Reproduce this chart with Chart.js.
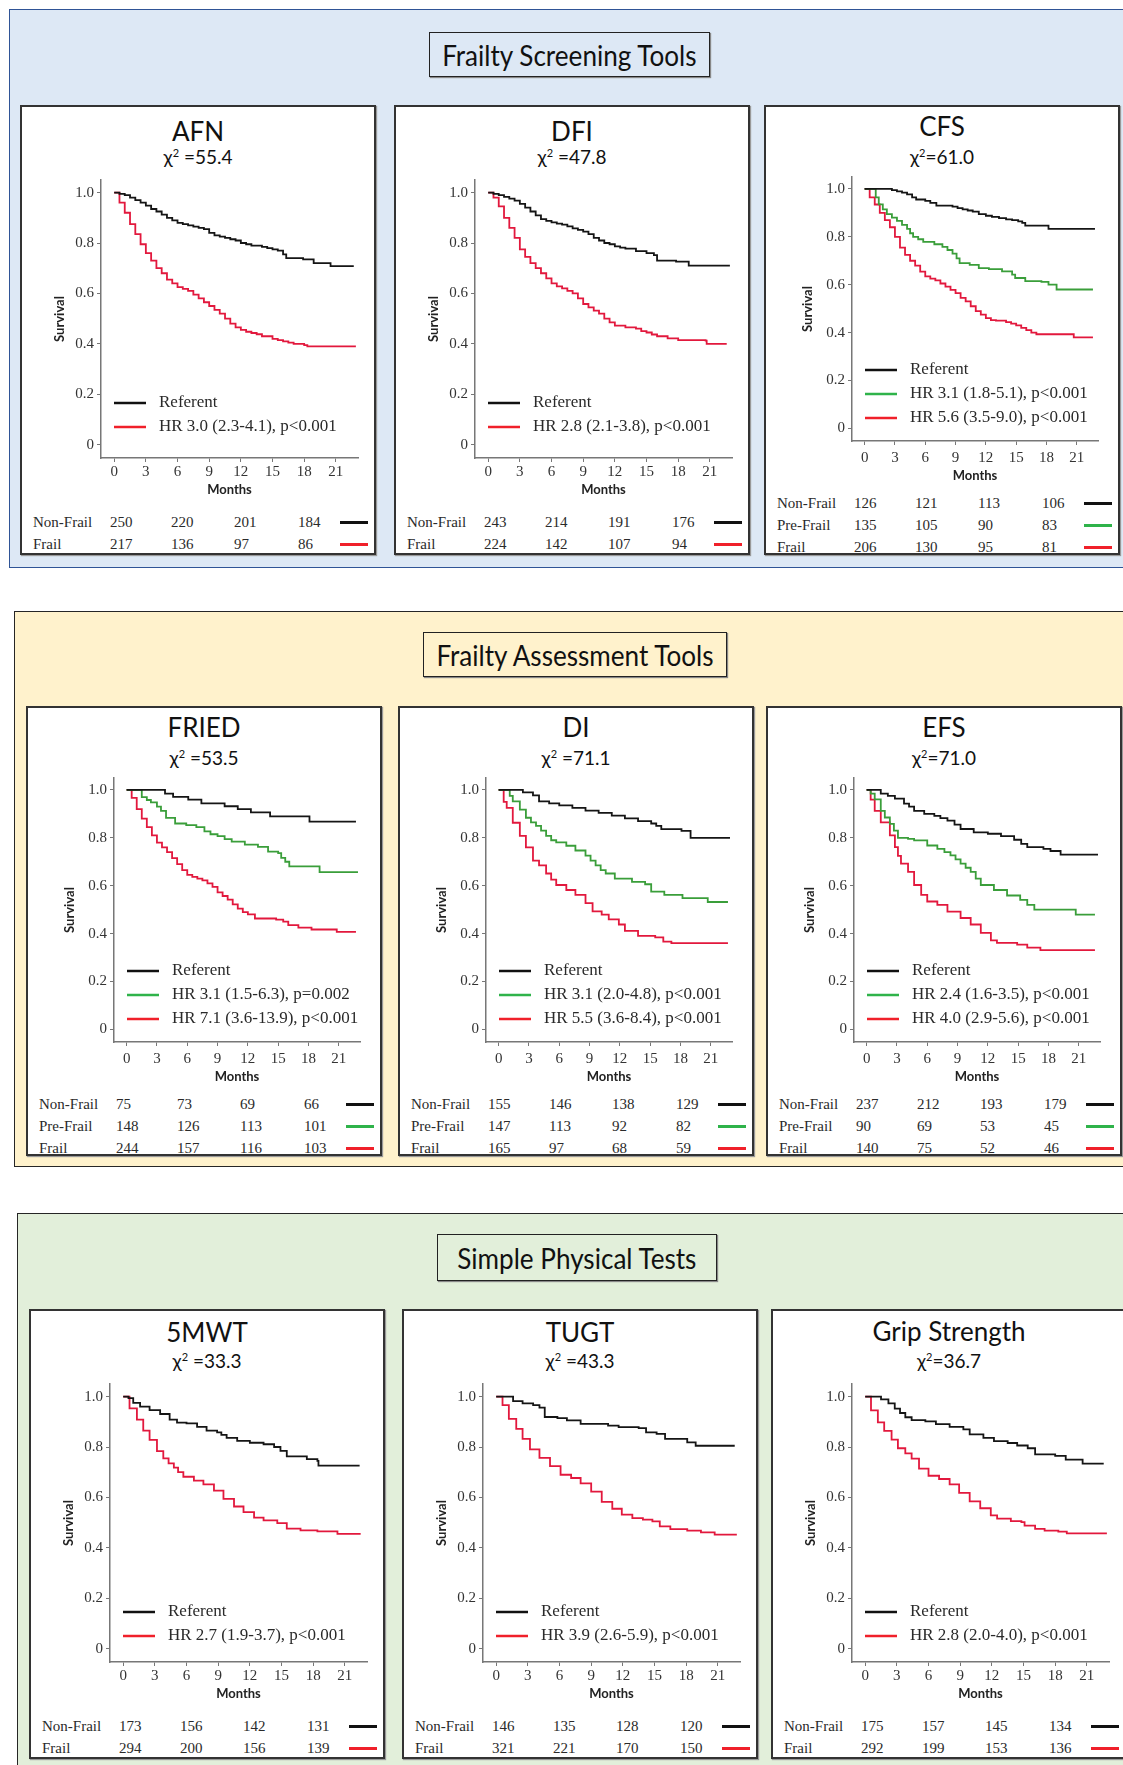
<!DOCTYPE html>
<html>
<head>
<meta charset="utf-8">
<script src="https://cdn.jsdelivr.net/npm/chart.js@4.4.1/dist/chart.umd.min.js"></script>
<style>
  body { margin: 0; background: #fff; }
  #page { position: relative; width: 1123px; height: 1765px; overflow: hidden; }
  .section { position: absolute; box-sizing: border-box; border: 1.5px solid #262626; }
  .header { position: absolute; box-sizing: border-box; border: 1.5px solid #222; box-shadow: 1px 1px 1px #888;
    font-family: Lato, sans-serif; font-size: 29px; color: #111;
    display: flex; align-items: center; justify-content: center; }
  .header span { display: inline-block; transform: scaleX(0.9); white-space: nowrap; }
  .panel { position: absolute; box-sizing: border-box; width: 356px; height: 450px; background: #fff;
    border: 2px solid #333; box-shadow: 1px 1px 1px #999; }
  .ptitle { position: absolute; left: 0; right: 0; text-align: center; font-family: Lato, sans-serif; color: #111; }
  .ptitle.name { font-size: 26px; line-height: 30px; }
  .ptitle.chi { top: 39px; font-size: 19px; line-height: 22px; }
  .ptitle.chi sup { font-size: 11px; vertical-align: 7px; line-height: 0; }
  .panel canvas { position: absolute; left: 0; top: 58px; }
  .risk { position: absolute; font-family: "Liberation Serif", serif; font-size: 15px; line-height: 18px; color: #2a2a2a; white-space: nowrap; }
  .rline { position: absolute; height: 2.5px; width: 28px; }
</style>
</head>
<body>
<div id="page"></div>
<script>
// survival curves, [month, survival]
const afnReferent = [[0,1],[0.5,0.995],[1,0.99],[1.5,0.98],[2,0.97],[2.5,0.96],[3,0.948],[3.5,0.935],[4,0.925],[4.5,0.913],[5,0.9],[5.5,0.89],[6,0.88],[6.5,0.875],[7,0.87],[7.5,0.865],[8,0.86],[8.5,0.855],[9,0.84],[9.5,0.83],[10,0.825],[10.5,0.82],[11,0.815],[11.5,0.81],[12,0.8],[12.5,0.795],[13,0.79],[14,0.785],[14.5,0.78],[15,0.775],[15.5,0.77],[16,0.755],[16.3,0.74],[17.9,0.735],[18.9,0.72],[20.5,0.708],[22.7,0.708]];
const afnFrail = [[0,1],[0.5,0.96],[1,0.92],[1.5,0.875],[2,0.835],[2.5,0.795],[3,0.76],[3.5,0.73],[4,0.7],[4.5,0.68],[5,0.655],[5.5,0.64],[6,0.625],[6.5,0.618],[7,0.61],[7.5,0.595],[8,0.58],[8.5,0.565],[9,0.55],[9.5,0.535],[10,0.52],[10.5,0.5],[11,0.48],[11.5,0.465],[12,0.455],[12.5,0.448],[13,0.443],[13.5,0.438],[14,0.43],[15,0.42],[15.5,0.415],[16,0.41],[16.5,0.405],[17,0.4],[18,0.395],[18.3,0.39],[22.9,0.39]];

const dfiReferent = [[0,1],[0.5,0.995],[1,0.99],[1.5,0.983],[2,0.976],[2.5,0.968],[3,0.955],[3.5,0.94],[4,0.925],[4.5,0.91],[5,0.895],[5.5,0.888],[6,0.882],[6.5,0.877],[7,0.873],[7.5,0.866],[8,0.858],[8.5,0.852],[9,0.845],[9.5,0.835],[10,0.82],[10.5,0.81],[11,0.8],[11.5,0.795],[12,0.787],[12.5,0.782],[13,0.778],[14,0.768],[15,0.76],[15.7,0.752],[16,0.73],[17.8,0.726],[19,0.71],[22.9,0.71]];
const dfiFrail = [[0,1],[0.5,0.98],[1,0.945],[1.5,0.9],[2,0.86],[2.5,0.82],[3,0.775],[3.5,0.745],[4,0.72],[4.5,0.7],[5,0.68],[5.5,0.66],[6,0.64],[6.5,0.628],[7,0.62],[7.5,0.61],[8,0.6],[8.5,0.58],[9,0.558],[9.5,0.545],[10,0.532],[10.5,0.52],[11,0.5],[11.5,0.485],[12,0.472],[13,0.465],[14,0.46],[14.5,0.45],[15,0.445],[15.5,0.437],[16,0.43],[17,0.422],[18,0.415],[20.6,0.413],[20.7,0.4],[22.6,0.4]];

const cfsReferent = [[0,1],[2.2,1],[2.7,0.995],[3.2,0.99],[3.7,0.985],[4.2,0.977],[4.7,0.965],[5.1,0.956],[6,0.95],[6.5,0.942],[7.1,0.93],[8.7,0.926],[9.2,0.92],[9.7,0.915],[10.2,0.91],[10.7,0.905],[11.3,0.895],[12,0.888],[12.6,0.883],[13.3,0.878],[14,0.873],[14.6,0.87],[15.2,0.865],[15.6,0.858],[15.9,0.847],[18.2,0.833],[22.8,0.833]];
const cfsPreFrail = [[0,1],[0.9,1],[1.1,0.965],[1.4,0.936],[1.8,0.915],[2.2,0.895],[2.7,0.88],[3.2,0.867],[3.7,0.85],[4.2,0.833],[4.5,0.815],[4.8,0.8],[5.3,0.79],[5.8,0.779],[6.9,0.769],[7.7,0.758],[8.2,0.745],[8.7,0.73],[9.1,0.71],[9.4,0.69],[10.4,0.683],[11.3,0.669],[12.3,0.665],[13.6,0.656],[14.6,0.642],[14.9,0.628],[15.9,0.615],[17.5,0.612],[18.2,0.6],[19,0.58],[22.6,0.58]];
const cfsFrail = [[0,1],[0.5,0.965],[1,0.935],[1.5,0.9],[2,0.87],[2.5,0.84],[3,0.8],[3.5,0.755],[4,0.725],[4.5,0.7],[5,0.68],[5.5,0.655],[6,0.635],[6.5,0.625],[7,0.618],[7.5,0.605],[8,0.592],[8.5,0.578],[9,0.565],[9.5,0.545],[10,0.53],[10.5,0.51],[11,0.49],[11.5,0.475],[12,0.46],[12.5,0.452],[13,0.45],[14,0.444],[14.5,0.437],[15,0.43],[15.5,0.42],[16,0.41],[16.5,0.4],[17,0.393],[20.6,0.393],[20.7,0.38],[22.6,0.38]];

const friedReferent = [[0,1],[3.4,1],[3.8,0.985],[4.6,0.971],[6.1,0.96],[7.4,0.944],[9.7,0.932],[11,0.92],[12.3,0.906],[14.2,0.89],[18.1,0.868],[22.7,0.868]];
const friedPreFrail = [[0,1],[1.1,1],[1.5,0.97],[2,0.958],[2.4,0.948],[3,0.93],[3.4,0.913],[3.9,0.883],[4.8,0.86],[5.9,0.853],[6.9,0.845],[7.7,0.827],[8.3,0.815],[9,0.807],[9.7,0.795],[10.4,0.784],[11.7,0.772],[13,0.762],[14,0.742],[15,0.736],[15.3,0.716],[15.7,0.7],[16.1,0.681],[19.1,0.657],[22.9,0.657]];
const friedFrail = [[0,1],[0.5,0.967],[1,0.92],[1.5,0.88],[2,0.845],[2.5,0.81],[3,0.78],[3.5,0.76],[4,0.74],[4.5,0.715],[5,0.69],[5.5,0.665],[6,0.645],[6.5,0.637],[7,0.63],[7.5,0.622],[8,0.61],[8.5,0.595],[9,0.572],[9.5,0.557],[10,0.542],[10.5,0.522],[11,0.504],[11.5,0.49],[12,0.48],[12.7,0.463],[14.8,0.458],[15.5,0.45],[16,0.435],[17,0.425],[18.3,0.417],[20.8,0.407],[22.7,0.407]];

const diReferent = [[0,1],[1.4,1],[2.4,0.99],[3.4,0.977],[4,0.952],[5,0.944],[6,0.936],[7.3,0.925],[8.6,0.914],[9.9,0.904],[11.2,0.893],[12.5,0.881],[13.8,0.87],[15.1,0.86],[15.6,0.85],[16.1,0.836],[18.1,0.829],[19,0.8],[22.9,0.8]];
const diPreFrail = [[0,1],[0.8,1],[1.1,0.975],[1.4,0.952],[2.1,0.918],[2.7,0.884],[3.2,0.865],[3.7,0.85],[4.2,0.83],[4.7,0.808],[5.2,0.79],[5.7,0.781],[6.7,0.767],[7.6,0.747],[8.6,0.726],[9.1,0.705],[9.6,0.685],[10.1,0.665],[10.6,0.651],[11.5,0.63],[13.2,0.616],[14.5,0.606],[15.1,0.575],[16.4,0.562],[18.2,0.548],[20.7,0.532],[22.7,0.532]];
const diFrail = [[0,1],[0.5,0.95],[0.8,0.925],[1.4,0.863],[2.1,0.808],[2.7,0.76],[3.4,0.705],[4,0.685],[4.7,0.651],[5.2,0.625],[5.7,0.603],[6.7,0.582],[7.6,0.562],[8.6,0.527],[9.3,0.493],[10.2,0.479],[10.9,0.459],[11.9,0.438],[12.5,0.411],[13.8,0.39],[15.5,0.384],[16.3,0.366],[17.1,0.36],[22.7,0.36]];

const efsReferent = [[0,1],[1,1],[1.4,0.985],[2.1,0.975],[2.8,0.964],[3.7,0.943],[4.2,0.93],[4.7,0.913],[5.7,0.9],[6.7,0.892],[7.3,0.882],[8,0.872],[8.7,0.855],[9.3,0.837],[10.6,0.823],[12,0.817],[13.3,0.807],[14.6,0.792],[15.3,0.775],[15.9,0.761],[17.5,0.754],[18.2,0.745],[19.2,0.73],[22.9,0.73]];
const efsPreFrail = [[0,1],[0.4,0.985],[0.8,0.961],[1.4,0.913],[1.8,0.885],[2.3,0.858],[2.7,0.83],[3.1,0.8],[4.1,0.796],[4.7,0.789],[6,0.768],[7,0.754],[7.7,0.74],[8.3,0.727],[8.8,0.71],[9.3,0.692],[9.8,0.675],[10.3,0.658],[10.8,0.63],[11.3,0.603],[12.6,0.582],[13.9,0.559],[15.2,0.541],[15.9,0.52],[16.6,0.5],[20.7,0.479],[22.6,0.479]];
const efsFrail = [[0,1],[0.4,0.96],[0.8,0.913],[1.4,0.865],[2.3,0.81],[2.8,0.761],[3.1,0.725],[3.4,0.692],[4.1,0.658],[4.7,0.603],[5.4,0.562],[6,0.534],[7,0.52],[8,0.492],[9.3,0.465],[10.3,0.438],[11.3,0.403],[12.3,0.372],[12.9,0.361],[14.9,0.354],[15.9,0.341],[17.2,0.331],[22.6,0.331]];

const mwtReferent = [[0,1],[0.5,0.994],[0.95,0.975],[1.6,0.96],[2.5,0.946],[3.5,0.931],[4.4,0.909],[5.1,0.897],[6,0.894],[7,0.88],[7.9,0.865],[8.9,0.858],[9.3,0.848],[9.8,0.836],[10.8,0.824],[12,0.817],[13.3,0.811],[14.3,0.8],[14.9,0.785],[15.5,0.763],[17.4,0.752],[18.4,0.745],[18.5,0.726],[22.4,0.726]];
const mwtFrail = [[0,1],[0.6,0.953],[1.3,0.909],[1.9,0.865],[2.5,0.828],[3.2,0.784],[3.8,0.755],[4.3,0.735],[4.8,0.718],[5.2,0.7],[5.7,0.682],[6.7,0.667],[7.6,0.652],[8.6,0.627],[9.5,0.594],[10.5,0.564],[11.4,0.542],[12.4,0.52],[13.3,0.509],[14.6,0.498],[15.5,0.476],[16.8,0.469],[18.4,0.465],[20.3,0.455],[22.5,0.455]];

const tugtReferent = [[0,1],[1.2,1],[1.6,0.982],[2.5,0.973],[3.5,0.966],[4.1,0.956],[4.6,0.919],[5.8,0.915],[6.7,0.906],[8,0.892],[10.6,0.885],[11.6,0.879],[13.5,0.875],[14.2,0.858],[15.2,0.852],[16,0.832],[18.1,0.818],[18.9,0.805],[22.6,0.805]];
const tugtFrail = [[0,1],[0.6,0.966],[1.2,0.912],[1.9,0.872],[2.5,0.832],[3.2,0.791],[4.1,0.757],[5.1,0.724],[6.1,0.69],[7.1,0.677],[8,0.656],[9,0.623],[10,0.582],[11,0.555],[11.9,0.532],[12.9,0.518],[13.9,0.512],[14.8,0.505],[15.5,0.485],[16.5,0.474],[18.1,0.468],[19.4,0.461],[20.7,0.452],[22.8,0.452]];

const gripReferent = [[0,1],[0.9,1],[1.5,0.989],[2.2,0.973],[2.8,0.952],[3.3,0.935],[3.8,0.918],[4.4,0.907],[5.7,0.902],[6.7,0.891],[8,0.88],[9.3,0.87],[9.9,0.85],[11.2,0.836],[12.2,0.823],[13.5,0.816],[14.4,0.806],[15.4,0.795],[16.1,0.771],[18,0.765],[19,0.75],[20.6,0.734],[22.6,0.734]];
const gripFrail = [[0,1],[0.55,0.945],[1.2,0.898],[1.8,0.864],[2.5,0.829],[3.1,0.795],[3.8,0.775],[4.4,0.754],[5.1,0.714],[6,0.686],[7,0.673],[8,0.652],[8.9,0.618],[9.9,0.584],[10.9,0.557],[11.9,0.529],[12.5,0.516],[13.8,0.506],[14.8,0.502],[15.1,0.488],[16.1,0.475],[17,0.468],[18.3,0.464],[19.1,0.457],[22.9,0.457]];

// numbers at risk
const afnAtRisk = [[250, 220, 201, 184], [217, 136, 97, 86]];
const dfiAtRisk = [[243, 214, 191, 176], [224, 142, 107, 94]];
const cfsAtRisk = [[126, 121, 113, 106], [135, 105, 90, 83], [206, 130, 95, 81]];
const friedAtRisk = [[75, 73, 69, 66], [148, 126, 113, 101], [244, 157, 116, 103]];
const diAtRisk = [[155, 146, 138, 129], [147, 113, 92, 82], [165, 97, 68, 59]];
const efsAtRisk = [[237, 212, 193, 179], [90, 69, 53, 45], [140, 75, 52, 46]];
const mwtAtRisk = [[173, 156, 142, 131], [294, 200, 156, 139]];
const tugtAtRisk = [[146, 135, 128, 120], [321, 221, 170, 150]];
const gripAtRisk = [[175, 157, 145, 134], [292, 199, 153, 136]];

const sectionNames = ['Frailty Screening Tools', 'Frailty Assessment Tools', 'Simple Physical Tests'];
const toolNames = ['AFN', 'DFI', 'CFS', 'FRIED', 'DI', 'EFS', '5MWT', 'TUGT', 'Grip Strength'];
const chiValues = [' =55.4', ' =47.8', '=61.0', ' =53.5', ' =71.1', '=71.0', ' =33.3', ' =43.3', '=36.7'];
const hrLabels = [
  ['Referent', 'HR 3.0 (2.3-4.1), p<0.001'],
  ['Referent', 'HR 2.8 (2.1-3.8), p<0.001'],
  ['Referent', 'HR 3.1 (1.8-5.1), p<0.001', 'HR 5.6 (3.5-9.0), p<0.001'],
  ['Referent', 'HR 3.1 (1.5-6.3), p=0.002', 'HR 7.1 (3.6-13.9), p<0.001'],
  ['Referent', 'HR 3.1 (2.0-4.8), p<0.001', 'HR 5.5 (3.6-8.4), p<0.001'],
  ['Referent', 'HR 2.4 (1.6-3.5), p<0.001', 'HR 4.0 (2.9-5.6), p<0.001'],
  ['Referent', 'HR 2.7 (1.9-3.7), p<0.001'],
  ['Referent', 'HR 3.9 (2.6-5.9), p<0.001'],
  ['Referent', 'HR 2.8 (2.0-4.0), p<0.001']
];
const groupNames2 = ['Non-Frail', 'Frail'];
const groupNames3 = ['Non-Frail', 'Pre-Frail', 'Frail'];
const monthTicks = [0, 3, 6, 9, 12, 15, 18, 21];
const survivalTicks = [0, 0.2, 0.4, 0.6, 0.8, 1.0];

const curves = [
  [afnReferent, afnFrail], [dfiReferent, dfiFrail], [cfsReferent, cfsPreFrail, cfsFrail],
  [friedReferent, friedPreFrail, friedFrail], [diReferent, diPreFrail, diFrail], [efsReferent, efsPreFrail, efsFrail],
  [mwtReferent, mwtFrail], [tugtReferent, tugtFrail], [gripReferent, gripFrail]
];
const atRisk = [afnAtRisk, dfiAtRisk, cfsAtRisk, friedAtRisk, diAtRisk, efsAtRisk, mwtAtRisk, tugtAtRisk, gripAtRisk];

// layout
const sectionBoxes = [
  { x: 9, y: 9, w: 1140, h: 559, bg: '#dde8f5', border: '#2f5496' },
  { x: 14, y: 611, w: 1140, h: 556, bg: '#fff2cc', border: '#262626' },
  { x: 17, y: 1213, w: 1140, h: 580, bg: '#e2efda', border: '#262626' }
];
const headerBoxes = [
  { x: 429, y: 32, w: 281, h: 45 },
  { x: 423, y: 632, w: 304, h: 45 },
  { x: 437, y: 1234, w: 280, h: 47 }
];
const panelRows = [105, 706, 1309];
const panelCols = [[20, 394, 764], [26, 398, 766], [29, 402, 771]];
const titleTop = [9, 9, 4, 4, 4, 4, 6, 6, 5];
const legendDrop = [0, 0, 0, 0, 0, 0, 5, 5, 5];

const geo2 = { top: 73, left: 79, right: 336, h: 335, xh: 42, tickPad: 1, survPad: 30, legendLast: 31, rows: [415, 437] };
const geo3 = { top: 66, left: 86, right: 332, h: 321, xh: 45, tickPad: 4, survPad: 34, legendLast: 23, rows: [396, 418, 440] };

const colors = { ref: '#151515', pre: '#3a9e3a', frail: '#e2183d' };
const serif = '"Liberation Serif", serif';

const kmLegend = {
  id: 'kmLegend',
  afterDatasetsDraw(chart, args, opts) {
    const { ctx, chartArea } = chart;
    const ds = chart.data.datasets;
    const n = ds.length;
    const lastY = chartArea.bottom - opts.last;
    ctx.save();
    ctx.font = '17px ' + serif;
    ctx.textBaseline = 'middle';
    ds.forEach((d, i) => {
      const y = lastY - (n - 1 - i) * 24;
      ctx.strokeStyle = d.legendColor;
      ctx.lineWidth = 2.5;
      ctx.beginPath();
      ctx.moveTo(chartArea.left + 13, y);
      ctx.lineTo(chartArea.left + 45, y);
      ctx.stroke();
      ctx.fillStyle = '#2a2a2a';
      ctx.fillText(d.label, chartArea.left + 58, y);
    });
    ctx.restore();
  }
};

const page = document.getElementById('page');

function box(cls, x, y, w, h) {
  const d = document.createElement('div');
  d.className = cls;
  d.style.left = x + 'px';
  d.style.top = y + 'px';
  if (w) d.style.width = w + 'px';
  if (h) d.style.height = h + 'px';
  return d;
}

sectionBoxes.forEach((s, i) => {
  const sec = box('section', s.x, s.y, s.w, s.h);
  sec.style.background = s.bg;
  sec.style.borderColor = s.border;
  page.appendChild(sec);
  const hb = headerBoxes[i];
  const hd = box('header', hb.x, hb.y, hb.w, hb.h);
  hd.style.background = s.bg;
  const sp = document.createElement('span');
  sp.textContent = sectionNames[i];
  hd.appendChild(sp);
  page.appendChild(hd);
});

function tickFont() { return { family: serif, size: 15 }; }

function drawPanel(idx) {
  const row = Math.floor(idx / 3), col = idx % 3;
  const series = curves[idx];
  const three = series.length === 3;
  const g = three ? geo3 : geo2;
  const panel = box('panel', panelCols[row][col], panelRows[row]);
  page.appendChild(panel);

  const name = document.createElement('div');
  name.className = 'ptitle name';
  name.style.top = titleTop[idx] + 'px';
  name.textContent = toolNames[idx];
  panel.appendChild(name);
  const chi = document.createElement('div');
  chi.className = 'ptitle chi';
  chi.innerHTML = 'χ<sup>2</sup>' + chiValues[idx];
  panel.appendChild(chi);

  const W = 352;
  const canvas = document.createElement('canvas');
  canvas.width = W;
  canvas.height = g.h;
  panel.appendChild(canvas);

  const cols = three ? [colors.ref, colors.pre, colors.frail] : [colors.ref, colors.frail];
  const legendCols = three ? ['#111', '#2fb34a', '#f0202a'] : ['#111', '#f0202a'];

  // frail curves first so the referent line is drawn on top
  const datasets = series.map((pts, i) => ({
    label: hrLabels[idx][i],
    data: pts.map(p => ({ x: p[0], y: p[1] })),
    borderColor: cols[i],
    legendColor: legendCols[i],
    borderWidth: 1.8,
    pointRadius: 0,
    stepped: true,
    fill: false,
    order: i
  }));

  new Chart(canvas, {
    type: 'line',
    data: { datasets },
    options: {
      animation: false,
      responsive: false,
      layout: { padding: { top: g.top - 58, right: W - g.right, left: 0, bottom: 0 } },
      plugins: {
        legend: { display: false },
        tooltip: { enabled: false },
        kmLegend: { last: g.legendLast - legendDrop[idx] }
      },
      scales: {
        x: {
          type: 'linear', min: -1.25, max: 23.1,
          afterBuildTicks: s => { s.ticks = monthTicks.map(v => ({ value: v })); },
          afterFit: s => { s.height = g.xh; },
          ticks: { font: tickFont(), color: '#333', padding: g.tickPad, autoSkip: false, maxRotation: 0 },
          grid: { drawOnChartArea: false, tickLength: 4, color: '#777' },
          border: { display: true, color: '#777', width: 1.5 },
          title: { display: true, text: 'Months', color: '#222', font: { family: 'Lato, sans-serif', weight: 'bold', size: 13 }, padding: { top: 0, bottom: 2 } }
        },
        y: {
          min: -0.053, max: 1.05,
          afterBuildTicks: s => { s.ticks = survivalTicks.map(v => ({ value: v })); },
          afterFit: s => { s.width = g.left; },
          ticks: { font: tickFont(), color: '#333', padding: 3, callback: v => v === 0 ? '0' : v.toFixed(1) },
          grid: { drawOnChartArea: false, tickLength: 4, color: '#777' },
          border: { display: true, color: '#777', width: 1.5 },
          title: { display: true, text: 'Survival', color: '#222', font: { family: 'Lato, sans-serif', weight: 'bold', size: 13 }, padding: { top: g.survPad, bottom: 0 } }
        }
      }
    },
    plugins: [kmLegend]
  });

  const names = three ? groupNames3 : groupNames2;
  const numX = [88, 149, 212, 276];
  atRisk[idx].forEach((vals, r) => {
    const y = g.rows[r] - 9;
    const lab = box('risk', 11, y);
    lab.textContent = names[r];
    panel.appendChild(lab);
    vals.forEach((v, k) => {
      const c = box('risk', numX[k], y);
      c.textContent = v;
      panel.appendChild(c);
    });
    const ln = box('rline', 318, g.rows[r] - 1);
    ln.style.background = legendCols[r];
    panel.appendChild(ln);
  });
}

for (let i = 0; i < 9; i++) drawPanel(i);
</script>
</body>
</html>
